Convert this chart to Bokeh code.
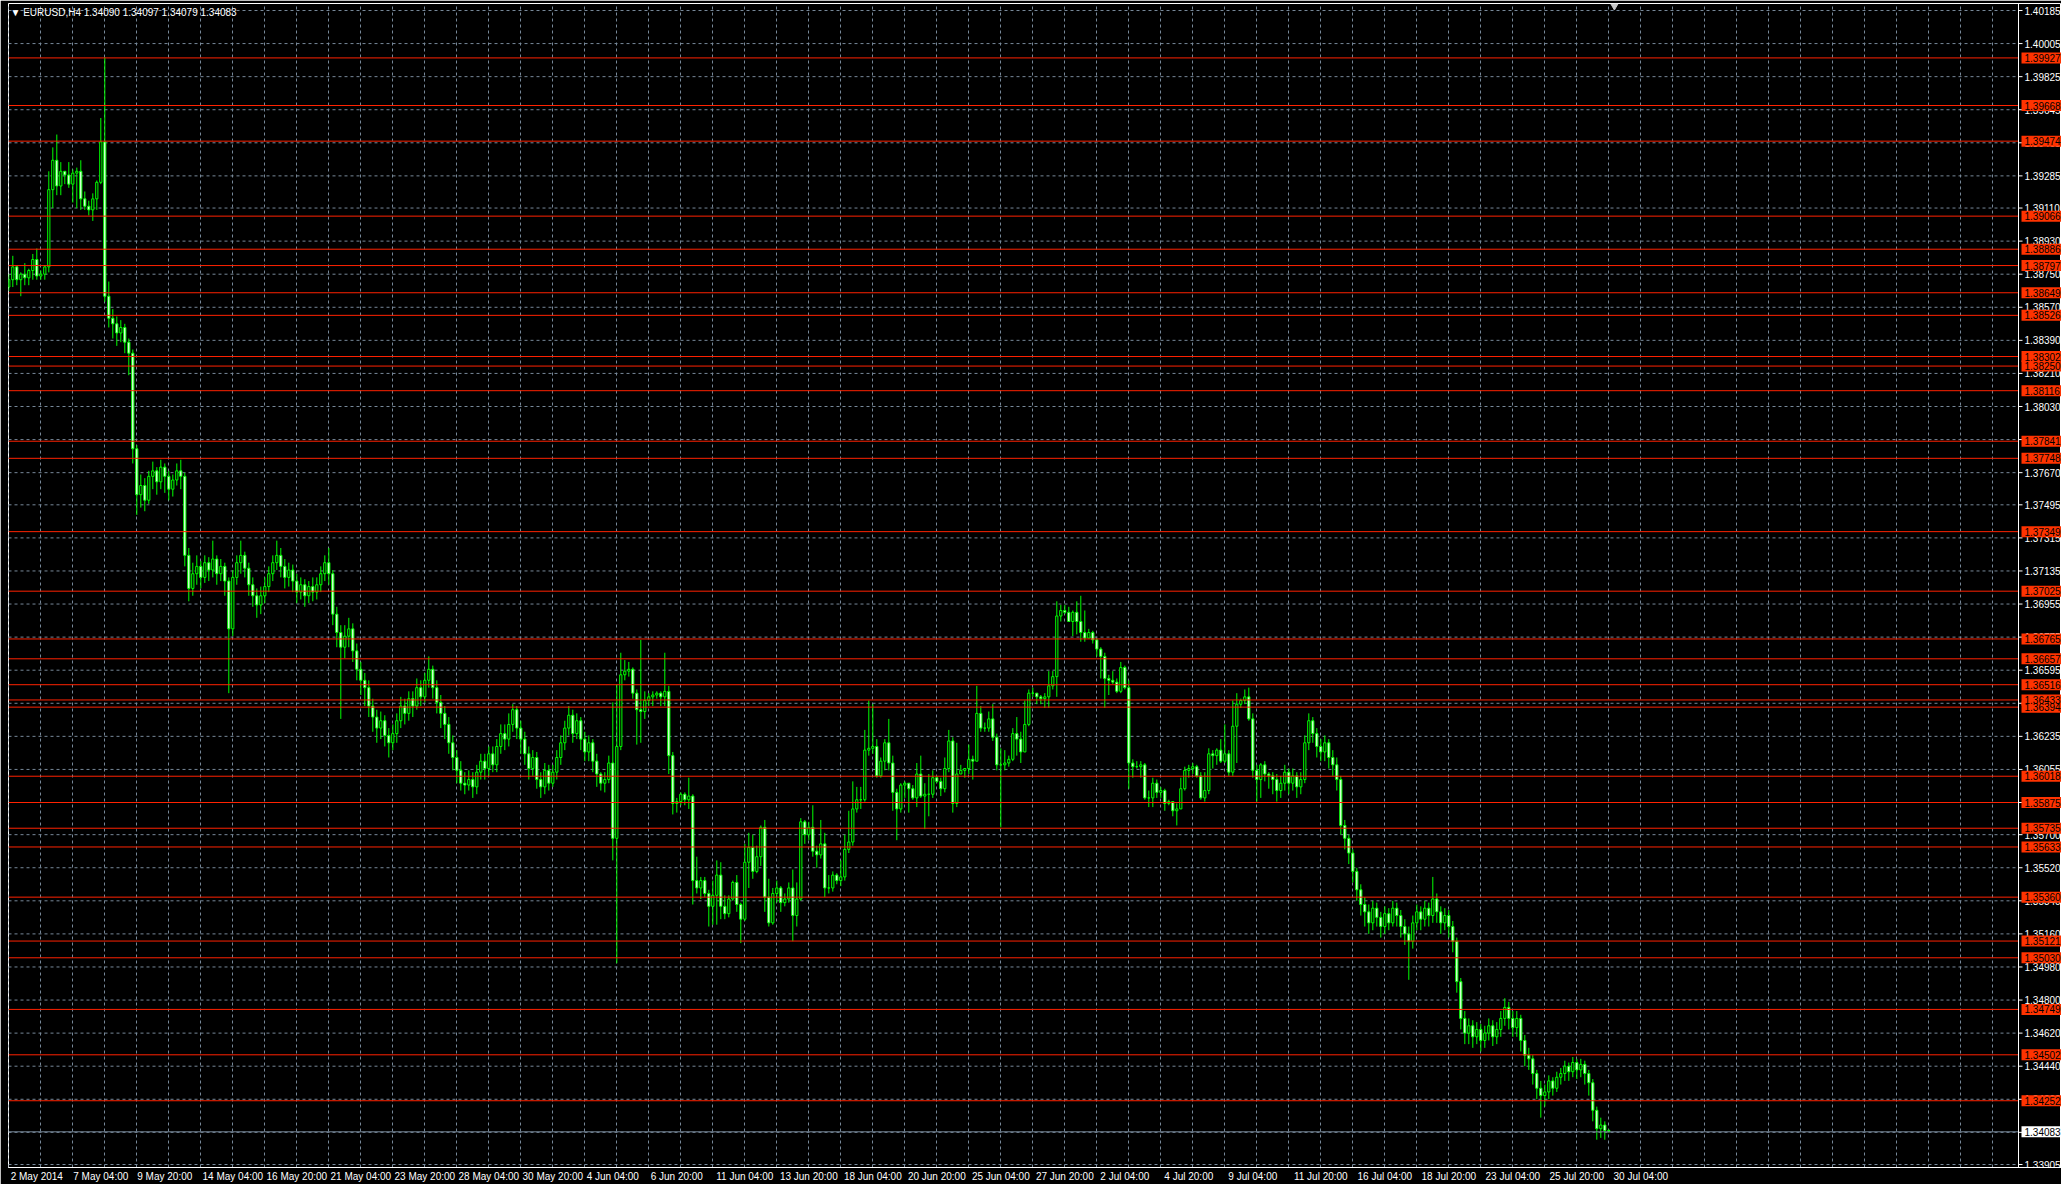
from bokeh.plotting import figure
from bokeh.models import FixedTicker, Label, ColumnDataSource, Range1d
from bokeh.embed import file_html
from bokeh.resources import INLINE
from bokeh.core.properties import value

# ---------------- data (EURUSD H4) ----------------
first_open = 1.3868
close = [
    1.3872, 1.3879, 1.3872, 1.3875, 1.3873, 1.3877, 1.3883, 1.3874, 1.3875, 1.3879,
    1.3921, 1.3937, 1.3923, 1.3931, 1.3929, 1.3924, 1.3930, 1.3931, 1.3916, 1.3912,
    1.3910, 1.3916, 1.3925, 1.3947, 1.3863, 1.3851, 1.3848, 1.3843, 1.3846, 1.3838,
    1.3832, 1.3780, 1.3755, 1.3760, 1.3752, 1.3765, 1.3768, 1.3762, 1.3770, 1.3765,
    1.3758, 1.3763, 1.3768, 1.3765, 1.3722, 1.3704, 1.3712, 1.3716, 1.3710, 1.3718,
    1.3714, 1.3720, 1.3712, 1.3716, 1.3708, 1.3682, 1.3710, 1.3718, 1.3722, 1.3715,
    1.3706, 1.3700, 1.3695, 1.3700, 1.3705, 1.3712, 1.3718, 1.3722, 1.3716, 1.3710,
    1.3714, 1.3708, 1.3702, 1.3706, 1.3700, 1.3705, 1.3702, 1.3706, 1.3712, 1.3718,
    1.3712, 1.3690, 1.3680, 1.3672, 1.3678, 1.3682, 1.3670, 1.3660, 1.3654, 1.3650,
    1.3640, 1.3634, 1.3628, 1.3632, 1.3624, 1.3620, 1.3625, 1.3632, 1.3640, 1.3636,
    1.3644, 1.3640, 1.3650, 1.3645, 1.3654, 1.3660, 1.3650, 1.3642, 1.3636, 1.3630,
    1.3620, 1.3612, 1.3605, 1.3598, 1.3597, 1.3600, 1.3596, 1.3604, 1.3610, 1.3606,
    1.3614, 1.3608, 1.3618, 1.3625, 1.3622, 1.3630, 1.3638, 1.3628, 1.3622, 1.3614,
    1.3606, 1.3612, 1.3600, 1.3596, 1.3605, 1.3598, 1.3604, 1.3612, 1.3620, 1.3628,
    1.3635, 1.3625, 1.3632, 1.3622, 1.3615, 1.3620, 1.3610, 1.3603, 1.3598, 1.3600,
    1.3609, 1.3568, 1.3618, 1.3657, 1.3659, 1.3660, 1.3647, 1.3638, 1.3637, 1.3643,
    1.3645, 1.3646, 1.3647, 1.3645, 1.3648, 1.3613, 1.3587, 1.3588, 1.3592, 1.3589,
    1.3591, 1.3545, 1.3541, 1.3545, 1.3538, 1.3531, 1.3537, 1.3548, 1.3531, 1.3527,
    1.3535, 1.3544, 1.3532, 1.3524, 1.3555, 1.3563, 1.3550, 1.3558, 1.3574, 1.3536,
    1.3522, 1.3538, 1.3541, 1.3533, 1.3535, 1.3541, 1.3526, 1.3535, 1.3577, 1.3570,
    1.3574, 1.3561, 1.3559, 1.3565, 1.3541, 1.3541, 1.3548, 1.3545, 1.3547, 1.3562,
    1.3566, 1.3584, 1.3589, 1.3589, 1.3616, 1.3617, 1.3618, 1.3602, 1.3610, 1.3620,
    1.3609, 1.3593, 1.3584, 1.3597, 1.3598, 1.3595, 1.3590, 1.3603, 1.3591, 1.3592,
    1.3592, 1.3601, 1.3599, 1.3595, 1.3606, 1.3621, 1.3587, 1.3603, 1.3605, 1.3606,
    1.3611, 1.3610, 1.3636, 1.3628, 1.3628, 1.3633, 1.3623, 1.3608, 1.3608, 1.3609,
    1.3611, 1.3625, 1.3622, 1.3615, 1.3630, 1.3647, 1.3647, 1.3645, 1.3644, 1.3645,
    1.3651, 1.3656, 1.3689, 1.3692, 1.3691, 1.3686, 1.3691, 1.3686, 1.3680, 1.3677,
    1.3680, 1.3676, 1.3671, 1.3667, 1.3655, 1.3654, 1.3653, 1.3648, 1.3661, 1.3650,
    1.3609, 1.3607, 1.3607, 1.3608, 1.3590, 1.3590, 1.3598, 1.3593, 1.3594, 1.3587,
    1.3588, 1.3583, 1.3584, 1.3595, 1.3605, 1.3606, 1.3607, 1.3602, 1.3590, 1.3594,
    1.3614, 1.3613, 1.3616, 1.3610, 1.3614, 1.3604, 1.3629, 1.3641, 1.3643, 1.3645,
    1.3633, 1.3605, 1.3600, 1.3608, 1.3603, 1.3602, 1.3600, 1.3594, 1.3598, 1.3604,
    1.3598, 1.3602, 1.3596, 1.3600, 1.3620, 1.3632, 1.3625, 1.3618, 1.3615, 1.3620,
    1.3612, 1.3608, 1.3600, 1.3575, 1.3568, 1.3560, 1.3550, 1.3540, 1.3532, 1.3528,
    1.3522, 1.3530, 1.3525, 1.3520, 1.3527, 1.3522, 1.3530, 1.3526, 1.3520, 1.3516,
    1.3512, 1.3522, 1.3528, 1.3524, 1.3530, 1.3526, 1.3535, 1.3528, 1.3522, 1.3526,
    1.3520, 1.3512, 1.3490, 1.3470, 1.3462, 1.3466, 1.3460, 1.3464, 1.3458, 1.3462,
    1.3466, 1.3460, 1.3464, 1.3470, 1.3476, 1.3470, 1.3465, 1.3470, 1.3458, 1.3450,
    1.3448, 1.3440, 1.3432, 1.3428, 1.3430, 1.3436, 1.3432, 1.3438, 1.3440, 1.3444,
    1.3441, 1.3446, 1.3442, 1.3445, 1.3440, 1.3435, 1.3420, 1.3410, 1.3412, 1.3409,
    1.34083,
]
high = [
    1.3875, 1.3885, 1.3880, 1.3876, 1.3881, 1.3878, 1.3886, 1.3889, 1.3877, 1.3880,
    1.3931, 1.3944, 1.3951, 1.3936, 1.3931, 1.3936, 1.3932, 1.3933, 1.3937, 1.3920,
    1.3915, 1.3919, 1.3926, 1.3960, 1.3993, 1.3871, 1.3856, 1.3852, 1.3850, 1.3848,
    1.3840, 1.3834, 1.3782, 1.3766, 1.3764, 1.3768, 1.3773, 1.3770, 1.3774, 1.3772,
    1.3768, 1.3766, 1.3772, 1.3774, 1.3767, 1.3726, 1.3718, 1.3722, 1.3719, 1.3722,
    1.3721, 1.3730, 1.3722, 1.3720, 1.3718, 1.3710, 1.3714, 1.3722, 1.3730, 1.3724,
    1.3718, 1.3710, 1.3704, 1.3705, 1.3710, 1.3716, 1.3722, 1.3730, 1.3726, 1.3720,
    1.3718, 1.3717, 1.3712, 1.3710, 1.3709, 1.3708, 1.3710, 1.3710, 1.3716, 1.3722,
    1.3726, 1.3714, 1.3694, 1.3684, 1.3684, 1.3688, 1.3685, 1.3674, 1.3664, 1.3658,
    1.3654, 1.3644, 1.3638, 1.3637, 1.3635, 1.3628, 1.3630, 1.3636, 1.3645, 1.3644,
    1.3648, 1.3648, 1.3655, 1.3654, 1.3658, 1.3667, 1.3662, 1.3654, 1.3646, 1.3640,
    1.3634, 1.3624, 1.3616, 1.3610, 1.3604, 1.3605, 1.3604, 1.3608, 1.3614, 1.3614,
    1.3618, 1.3618, 1.3622, 1.3630, 1.3630, 1.3636, 1.3641, 1.3640, 1.3632, 1.3626,
    1.3618, 1.3616, 1.3615, 1.3604, 1.3609, 1.3608, 1.3608, 1.3616, 1.3624, 1.3632,
    1.3640, 1.3638, 1.3636, 1.3634, 1.3626, 1.3624, 1.3622, 1.3614, 1.3604, 1.3604,
    1.3613, 1.3642, 1.3652, 1.3669, 1.3665, 1.3664, 1.3661, 1.3649, 1.3676, 1.3648,
    1.3647, 1.3648, 1.3648, 1.3648, 1.3669, 1.3651, 1.3615, 1.3590, 1.3593, 1.3593,
    1.3601, 1.3592, 1.3558, 1.3547, 1.3547, 1.3540, 1.3545, 1.3556, 1.3555, 1.3537,
    1.3537, 1.3545, 1.3548, 1.3533, 1.3565, 1.3571, 1.3570, 1.3564, 1.3575, 1.3578,
    1.3546, 1.3541, 1.3545, 1.3542, 1.3538, 1.3544, 1.3551, 1.3544, 1.3579, 1.3578,
    1.3577, 1.3586, 1.3564, 1.3578, 1.3571, 1.3548, 1.3550, 1.3549, 1.3556, 1.3570,
    1.3583, 1.3599, 1.3596, 1.3596, 1.3627, 1.3643, 1.3641, 1.3622, 1.3612, 1.3622,
    1.3633, 1.3613, 1.3595, 1.3598, 1.3599, 1.3596, 1.3597, 1.3609, 1.3613, 1.3598,
    1.3603, 1.3605, 1.3602, 1.3601, 1.3612, 1.3627, 1.3623, 1.3620, 1.3608, 1.3606,
    1.3619, 1.3613, 1.3651, 1.3640, 1.3631, 1.3637, 1.3641, 1.3625, 1.3617, 1.3616,
    1.3613, 1.3628, 1.3634, 1.3626, 1.3643, 1.3649, 1.3650, 1.3647, 1.3646, 1.3647,
    1.3659, 1.3659, 1.3697, 1.3695, 1.3695, 1.3694, 1.3692, 1.3697, 1.3700, 1.3692,
    1.3682, 1.3681, 1.3677, 1.3672, 1.3669, 1.3657, 1.3659, 1.3655, 1.3664, 1.3662,
    1.3654, 1.3611, 1.3610, 1.3610, 1.3609, 1.3594, 1.3601, 1.3600, 1.3596, 1.3595,
    1.3589, 1.3588, 1.3587, 1.3601, 1.3607, 1.3608, 1.3609, 1.3608, 1.3604, 1.3604,
    1.3617, 1.3616, 1.3617, 1.3622, 1.3630, 1.3616, 1.3643, 1.3647, 1.3644, 1.3649,
    1.3650, 1.3636, 1.3608, 1.3609, 1.3610, 1.3604, 1.3604, 1.3603, 1.3602, 1.3608,
    1.3606, 1.3606, 1.3604, 1.3604, 1.3624, 1.3636, 1.3634, 1.3628, 1.3622, 1.3624,
    1.3622, 1.3616, 1.3612, 1.3602, 1.3578, 1.3570, 1.3562, 1.3552, 1.3543, 1.3536,
    1.3532, 1.3534, 1.3533, 1.3528, 1.3531, 1.3530, 1.3534, 1.3533, 1.3529, 1.3524,
    1.3520, 1.3526, 1.3532, 1.3531, 1.3534, 1.3533, 1.3547, 1.3538, 1.3531, 1.3530,
    1.3529, 1.3523, 1.3514, 1.3492, 1.3474, 1.3470, 1.3469, 1.3468, 1.3467, 1.3466,
    1.3470, 1.3469, 1.3468, 1.3474, 1.3481, 1.3479, 1.3474, 1.3474, 1.3472, 1.3461,
    1.3454, 1.3450, 1.3442, 1.3436, 1.3434, 1.3439, 1.3438, 1.3441, 1.3443, 1.3447,
    1.3446, 1.3449, 1.3448, 1.3448, 1.3447, 1.3442, 1.3437, 1.3422, 1.3416, 1.3414,
    1.34097,
]
low = [
    1.3866, 1.3868, 1.3869, 1.3863, 1.3869, 1.3869, 1.3872, 1.3872, 1.3872, 1.3872,
    1.3876, 1.3911, 1.3918, 1.3918, 1.3924, 1.3922, 1.3914, 1.3911, 1.3910, 1.3910,
    1.3907, 1.3904, 1.3910, 1.3924, 1.3860, 1.3846, 1.3840, 1.3836, 1.3838, 1.3832,
    1.3820, 1.3772, 1.3744, 1.3748, 1.3746, 1.3750, 1.3758, 1.3755, 1.3758, 1.3756,
    1.3752, 1.3754, 1.3760, 1.3758, 1.3716, 1.3697, 1.3700, 1.3706, 1.3704, 1.3707,
    1.3708, 1.3710, 1.3706, 1.3708, 1.3700, 1.3647, 1.3678, 1.3706, 1.3712, 1.3710,
    1.3700, 1.3694, 1.3688, 1.3690, 1.3696, 1.3702, 1.3708, 1.3714, 1.3710, 1.3704,
    1.3705, 1.3702, 1.3696, 1.3698, 1.3694, 1.3696, 1.3697, 1.3698, 1.3702, 1.3708,
    1.3706, 1.3684, 1.3672, 1.3633, 1.3666, 1.3672, 1.3664, 1.3654, 1.3646, 1.3640,
    1.3634, 1.3626, 1.3620, 1.3622, 1.3618, 1.3612, 1.3616, 1.3620, 1.3628, 1.3630,
    1.3632, 1.3634, 1.3638, 1.3640, 1.3642, 1.3650, 1.3644, 1.3636, 1.3628, 1.3622,
    1.3614, 1.3605, 1.3598, 1.3594, 1.3592, 1.3594, 1.3590, 1.3592, 1.3600, 1.3600,
    1.3602, 1.3604, 1.3604, 1.3614, 1.3616, 1.3618, 1.3626, 1.3622, 1.3614, 1.3608,
    1.3600, 1.3602, 1.3595, 1.3590, 1.3592, 1.3594, 1.3596, 1.3600, 1.3608, 1.3616,
    1.3624, 1.3620, 1.3622, 1.3616, 1.3610, 1.3610, 1.3604, 1.3596, 1.3594, 1.3593,
    1.3598, 1.3556, 1.3500, 1.3616, 1.3654, 1.3656, 1.3644, 1.3619, 1.3620, 1.3633,
    1.3640, 1.3640, 1.3644, 1.3640, 1.3640, 1.3603, 1.3581, 1.3582, 1.3586, 1.3586,
    1.3584, 1.3532, 1.3538, 1.3535, 1.3536, 1.3520, 1.3521, 1.3521, 1.3524, 1.3524,
    1.3525, 1.3534, 1.3528, 1.3511, 1.3523, 1.3541, 1.3546, 1.3549, 1.3553, 1.3528,
    1.3520, 1.3521, 1.3533, 1.3528, 1.3531, 1.3533, 1.3512, 1.3520, 1.3534, 1.3565,
    1.3567, 1.3558, 1.3552, 1.3557, 1.3536, 1.3538, 1.3539, 1.3543, 1.3542, 1.3545,
    1.3560, 1.3564, 1.3582, 1.3584, 1.3588, 1.3613, 1.3614, 1.3601, 1.3601, 1.3605,
    1.3605, 1.3583, 1.3567, 1.3582, 1.3590, 1.3582, 1.3589, 1.3585, 1.3590, 1.3573,
    1.3580, 1.3590, 1.3598, 1.3591, 1.3593, 1.3604, 1.3582, 1.3585, 1.3603, 1.3601,
    1.3603, 1.3600, 1.3610, 1.3626, 1.3626, 1.3626, 1.3621, 1.3605, 1.3574, 1.3605,
    1.3607, 1.3610, 1.3613, 1.3609, 1.3615, 1.3629, 1.3645, 1.3641, 1.3641, 1.3639,
    1.3639, 1.3649, 1.3645, 1.3686, 1.3690, 1.3686, 1.3678, 1.3679, 1.3675, 1.3675,
    1.3677, 1.3674, 1.3667, 1.3655, 1.3639, 1.3646, 1.3652, 1.3647, 1.3647, 1.3649,
    1.3595, 1.3601, 1.3606, 1.3601, 1.3589, 1.3585, 1.3585, 1.3590, 1.3590, 1.3583,
    1.3586, 1.3580, 1.3575, 1.3584, 1.3594, 1.3601, 1.3603, 1.3601, 1.3589, 1.3588,
    1.3592, 1.3606, 1.3608, 1.3609, 1.3609, 1.3602, 1.3602, 1.3609, 1.3639, 1.3641,
    1.3632, 1.3601, 1.3588, 1.3590, 1.3599, 1.3595, 1.3592, 1.3588, 1.3590, 1.3594,
    1.3592, 1.3594, 1.3590, 1.3592, 1.3598, 1.3616, 1.3620, 1.3612, 1.3610, 1.3610,
    1.3606, 1.3602, 1.3594, 1.3570, 1.3562, 1.3554, 1.3544, 1.3534, 1.3526, 1.3520,
    1.3516, 1.3518, 1.3520, 1.3514, 1.3516, 1.3518, 1.3520, 1.3520, 1.3514, 1.3510,
    1.3491, 1.3508, 1.3518, 1.3518, 1.3520, 1.3520, 1.3522, 1.3522, 1.3516, 1.3518,
    1.3514, 1.3506, 1.3484, 1.3464, 1.3456, 1.3456, 1.3454, 1.3456, 1.3452, 1.3454,
    1.3458, 1.3455, 1.3456, 1.3460, 1.3466, 1.3464, 1.3460, 1.3460, 1.3452, 1.3444,
    1.3442, 1.3434, 1.3426, 1.3416, 1.3422, 1.3426, 1.3428, 1.3430, 1.3434, 1.3436,
    1.3436, 1.3438, 1.3437, 1.3438, 1.3434, 1.3428, 1.3414, 1.3404, 1.3405, 1.3404,
    1.34079,
]

red_levels = [1.39927, 1.39668, 1.39474, 1.39066, 1.38886, 1.38797, 1.38649, 1.38526,
              1.38302, 1.38250, 1.38116, 1.37841, 1.37748, 1.37349, 1.37025, 1.36765,
              1.36657, 1.36516, 1.36433, 1.36394, 1.36018, 1.35875, 1.35735, 1.35633,
              1.35360, 1.35121, 1.35030, 1.34749, 1.34502, 1.34252]
bid_price = 1.34083

price_ticks = [1.40185, 1.40005, 1.39825, 1.39645, 1.39465, 1.39285, 1.39110, 1.38930,
               1.38750, 1.38570, 1.38390, 1.38210, 1.38030, 1.37850, 1.37670, 1.37495,
               1.37315, 1.37135, 1.36955, 1.36775, 1.36595, 1.36415, 1.36235, 1.36055,
               1.35875, 1.35700, 1.35520, 1.35340, 1.35160, 1.34980, 1.34800, 1.34620,
               1.34440, 1.34260, 1.34080, 1.33905]

time_labels = ["2 May 2014", "7 May 04:00", "9 May 20:00", "14 May 04:00", "16 May 20:00",
               "21 May 04:00", "23 May 20:00", "28 May 04:00", "30 May 20:00", "4 Jun 04:00",
               "6 Jun 20:00", "11 Jun 04:00", "13 Jun 20:00", "18 Jun 04:00", "20 Jun 20:00",
               "25 Jun 04:00", "27 Jun 20:00", "2 Jul 04:00", "4 Jul 20:00", "9 Jul 04:00",
               "11 Jul 20:00", "16 Jul 04:00", "18 Jul 20:00", "23 Jul 04:00", "25 Jul 20:00",
               "30 Jul 04:00"]
bars_per_label = 16
bars_per_grid = 8

title_text = "\u25bc EURUSD,H4  1.34090 1.34097 1.34079 1.34083"

# ---------------- layout ----------------
FW, FH = 2053, 1164          # plot frame (includes the price-scale strip on the right)
PX_PER_BAR = 4.0
PX_PER_PRICE = 18376.0
SCALE_PX = 43                # width of the price-scale strip
x_start = -0.075
x_end = x_start + FW / PX_PER_BAR
x_ax = x_end - SCALE_PX / PX_PER_BAR   # price-scale boundary
y_top = 1.40185 + 7 / PX_PER_PRICE
y_bot = y_top - FH / PX_PER_PRICE
FONT = "Liberation Sans"
FS = "10px"

GREEN = "#00FF00"
GRID = "#778899"
RED_LINE = "#FF2200"
RED_BOX = "#FF3300"

p = figure(frame_width=FW, frame_height=FH, output_backend="svg", toolbar_location=None,
           x_range=Range1d(x_start, x_end), y_range=Range1d(y_bot, y_top),
           min_border_left=8, min_border_right=0, min_border_top=3, min_border_bottom=0,
           y_axis_location=None,
           background_fill_color="black", border_fill_color="black")
p.outline_line_color = "white"
p.outline_line_width = 1
p.ygrid.visible = False

# vertical grid (every 8 bars, only on the chart side of the price scale)
p.xgrid.ticker = FixedTicker(ticks=list(range(0, int(x_ax), bars_per_grid)))
p.xgrid.grid_line_color = GRID
p.xgrid.grid_line_dash = "3 3"
p.xgrid.grid_line_width = 1

# horizontal grid at the price ticks
p.segment(x0=x_start, x1=x_ax, y0=price_ticks, y1=price_ticks,
          line_color=GRID, line_dash="3 3", line_width=1)

# x axis: MT4 labels start at their bar, so centre each one to the right of it
label_bars = [i * bars_per_label for i in range(len(time_labels))]
centers = [b + round((len(t) * 2.5 + 2) / PX_PER_BAR) for b, t in zip(label_bars, time_labels)]
xa = p.xaxis[0]
xa.ticker = FixedTicker(ticks=centers)
xa.major_label_overrides = {c: t for c, t in zip(centers, time_labels)}
xa.axis_line_color = "white"
xa.major_tick_line_color = None
xa.major_tick_out = 2
xa.major_tick_in = 0
xa.minor_tick_line_color = None
xa.major_label_standoff = 1
xa.major_label_text_color = "white"
xa.major_label_text_font = FONT
xa.major_label_text_font_size = FS

# candles
n = len(close)
opens = [first_open] + close[:-1]
xs = list(range(n))
tops = [max(o, c) for o, c in zip(opens, close)]
bots = [min(o, c) for o, c in zip(opens, close)]
fills = ["black" if c > o else "white" for o, c in zip(opens, close)]
src = ColumnDataSource(dict(x=xs, high=high, low=low, top=tops, bottom=bots, fill=fills))
p.segment(x0="x", y0="high", x1="x", y1="low", source=src, line_color=GREEN, line_width=1)
p.vbar(x="x", width=0.55, top="top", bottom="bottom", source=src,
       fill_color="fill", line_color=GREEN, line_width=1)

# horizontal levels
p.segment(x0=x_start, x1=x_ax, y0=red_levels, y1=red_levels, line_color=RED_LINE, line_width=1)
p.segment(x0=x_start, x1=x_ax, y0=[bid_price], y1=[bid_price], line_color=GRID, line_width=1)

# price scale: boundary line, ticks, labels
p.segment(x0=[x_ax], x1=[x_ax], y0=[y_bot], y1=[y_top], line_color="white", line_width=1)
p.segment(x0=x_ax, x1=x_ax + 1.0, y0=price_ticks, y1=price_ticks, line_color="white", line_width=1)
p.text(x=x_ax + 1.5, y=price_ticks, text=[f"{v:.5f}" for v in price_ticks],
       text_color="white", text_font=value(FONT), text_font_size=FS,
       text_baseline="middle", text_align="left")

# level price tags
half = 5.5 / PX_PER_PRICE
p.quad(left=x_ax + 0.75, right=x_end, top=[v + half for v in red_levels],
       bottom=[v - half for v in red_levels], fill_color=RED_BOX, line_color=None)
p.text(x=x_ax + 1.5, y=red_levels, text=[f"{v:.5f}" for v in red_levels],
       text_color="black", text_font=value(FONT), text_font_size=FS,
       text_baseline="middle", text_align="left")
p.quad(left=x_ax + 0.75, right=x_end, top=[bid_price + half], bottom=[bid_price - half],
       fill_color="white", line_color=None)
p.text(x=x_ax + 1.5, y=[bid_price], text=[f"{bid_price:.5f}"],
       text_color="black", text_font=value(FONT), text_font_size=FS,
       text_baseline="middle", text_align="left")

# chart-shift marker at the top
p.scatter(x=[n + 0.4], y=[1.40185 + 4.5 / PX_PER_PRICE], marker="inverted_triangle",
          size=7, fill_color="#C8C8C8", line_color="#C8C8C8")

# title
p.add_layout(Label(x=2, y=FH - 3, x_units="screen", y_units="screen", text=title_text,
                   text_color="white", text_font=FONT, text_font_size=FS,
                   text_baseline="top", text_align="left"))

open("out.html", "w").write(file_html(p, INLINE))
